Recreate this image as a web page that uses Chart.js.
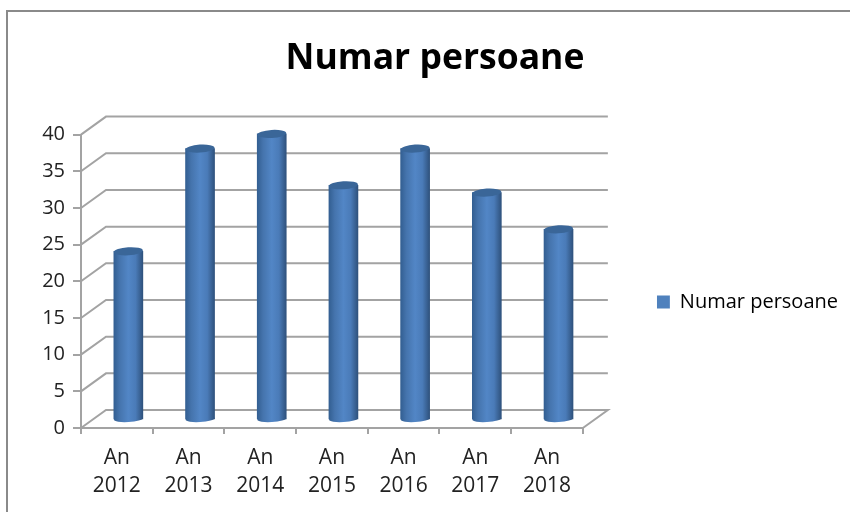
<!DOCTYPE html>
<html>
<head>
<meta charset="utf-8">
<script src="https://cdn.jsdelivr.net/npm/chart.js@4"></script>
<style>
  html, body { margin: 0; background: #fff; }
  #wrap { position: relative; width: 850px; height: 512px; overflow: hidden; }
  #frame { position: absolute; left: 6px; top: 10px; width: 900px; height: 600px; border: 2px solid #8a8a8a; }
  canvas { position: absolute; left: 0; top: 0; }
</style>
</head>
<body>
<div id="wrap">
  <div id="frame"></div>
  <canvas id="chart" width="850" height="512"></canvas>
</div>
<script>
const categories = [["An", "2012"], ["An", "2013"], ["An", "2014"], ["An", "2015"], ["An", "2016"], ["An", "2017"], ["An", "2018"]];
const seriesName = "Numar persoane";
const values = [23, 37, 39, 32, 37, 31, 26];
const yTicks = [0, 5, 10, 15, 20, 25, 30, 35, 40];

const gridColor = "#a3a3a3";
const textColor = "#222";
const barWidth = 29;
// how far the back wall sits from the front plane
const depthX = 25;
const depthY = 18;

function barGradient(chart, x) {
  const g = chart.ctx.createLinearGradient(x - barWidth / 2, 0, x + barWidth / 2, 0);
  g.addColorStop(0, "#335f92");
  g.addColorStop(0.2, "#4574ad");
  g.addColorStop(0.5, "#5286c6");
  g.addColorStop(0.75, "#4a7bb8");
  g.addColorStop(1, "#2f527d");
  return g;
}

const walls = {
  id: "walls",
  beforeDatasetsDraw(chart) {
    const { ctx, chartArea: a, scales } = chart;
    ctx.save();
    ctx.strokeStyle = gridColor;
    ctx.lineWidth = 2;
    yTicks.forEach((v) => {
      const y = scales.y.getPixelForValue(v);
      ctx.beginPath();
      ctx.moveTo(a.left, y);
      ctx.lineTo(a.left + depthX, y - depthY);
      ctx.lineTo(a.right + depthX, y - depthY);
      if (v === 0) ctx.lineTo(a.right, y);
      ctx.stroke();
    });
    ctx.restore();
  },
};

// bars are pushed halfway into the depth, with ellipses for the cylinder ends
const cylinders = {
  id: "cylinders",
  beforeDatasetDraw(chart) {
    const { ctx } = chart;
    ctx.save();
    ctx.translate(depthX / 2 - 1, -8);
    chart.getDatasetMeta(0).data.forEach((bar) => {
      ctx.fillStyle = barGradient(chart, bar.x);
      ctx.beginPath();
      ctx.ellipse(bar.x, bar.base, barWidth / 2, 3, -0.06, 0, Math.PI * 2);
      ctx.fill();
    });
  },
  afterDatasetDraw(chart) {
    const { ctx } = chart;
    chart.getDatasetMeta(0).data.forEach((bar) => {
      ctx.fillStyle = "#3a6698";
      ctx.beginPath();
      ctx.ellipse(bar.x, bar.y, barWidth / 2, 4, -0.06, 0, Math.PI * 2);
      ctx.fill();
    });
    ctx.restore();
  },
};

// legend sits lower than the canvas middle
const legendShift = {
  id: "legendShift",
  afterLayout(chart) {
    chart.legend.top += 92;
  },
};

new Chart(document.getElementById("chart"), {
  type: "bar",
  data: {
    labels: categories,
    datasets: [
      {
        label: seriesName,
        data: values,
        barThickness: barWidth,
        backgroundColor(c) {
          const x = c.chart.scales.x;
          if (!x || c.dataIndex === undefined) return "#4f81bd";
          return barGradient(c.chart, x.getPixelForValue(c.dataIndex));
        },
      },
    ],
  },
  options: {
    responsive: false,
    animation: false,
    layout: { padding: { left: 22, right: 2, top: 0, bottom: 0 } },
    plugins: {
      tooltip: { enabled: false },
      title: {
        display: true,
        text: seriesName,
        color: "#000",
        font: { family: "'Open Sans'", size: 35.5, weight: "bold" },
        padding: { top: 38, bottom: 54 },
      },
      legend: {
        position: "right",
        maxWidth: 300,
        labels: {
          color: textColor,
          font: { family: "'Open Sans'", size: 20 },
          boxWidth: 13,
          boxHeight: 13,
          padding: 0,
          generateLabels: () => [{ text: seriesName, fillStyle: "#4f81bd", strokeStyle: "#4f81bd", lineWidth: 0 }],
        },
      },
    },
    scales: {
      x: {
        grid: { display: true, drawOnChartArea: false, color: gridColor, lineWidth: 2, tickLength: 6, offset: true },
        border: { color: gridColor, width: 2 },
        ticks: { color: textColor, font: { family: "'Open Sans'", size: 21, lineHeight: 1.33 }, maxRotation: 0, padding: 10 },
        afterFit(s) { s.height = 84; },
      },
      y: {
        min: 0,
        max: 40,
        grid: { display: true, drawOnChartArea: false, color: gridColor, lineWidth: 2, tickLength: 8 },
        border: { color: gridColor, width: 2 },
        ticks: { color: textColor, font: { family: "'Open Sans'", size: 20 }, stepSize: 5, padding: 8 },
        afterFit(s) { s.width = 59; },
      },
      // keeps the gap between the plot and the legend
      gap: {
        position: "right",
        min: 0,
        max: 40,
        grid: { display: false },
        border: { display: false },
        ticks: { display: false },
        afterFit(s) { s.width = 74; },
      },
    },
  },
  plugins: [walls, cylinders, legendShift],
});
</script>
</body>
</html>
